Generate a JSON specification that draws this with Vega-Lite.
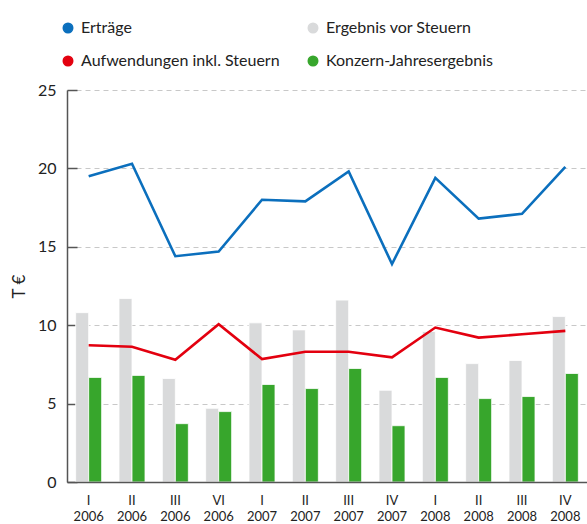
{
  "$schema": "https://vega.github.io/schema/vega-lite/v6.json",
  "width": 520,
  "height": 392,
  "autosize": {"type": "none"},
  "padding": {"left": 67, "top": 90, "right": 0, "bottom": 42},
  "background": "white",
  "config": {
    "view": {"stroke": null},
    "font": "Lato"
  },
  "data": {
    "values": [
      {"q": "I 2006", "series": "Erträge", "value": 19.5},
      {"q": "II 2006", "series": "Erträge", "value": 20.3},
      {"q": "III 2006", "series": "Erträge", "value": 14.4},
      {"q": "VI 2006", "series": "Erträge", "value": 14.7},
      {"q": "I 2007", "series": "Erträge", "value": 18.0},
      {"q": "II 2007", "series": "Erträge", "value": 17.9},
      {"q": "III 2007", "series": "Erträge", "value": 19.8},
      {"q": "IV 2007", "series": "Erträge", "value": 13.9},
      {"q": "I 2008", "series": "Erträge", "value": 19.4},
      {"q": "II 2008", "series": "Erträge", "value": 16.8},
      {"q": "III 2008", "series": "Erträge", "value": 17.1},
      {"q": "IV 2008", "series": "Erträge", "value": 20.1},
      {"q": "I 2006", "series": "Aufwendungen inkl. Steuern", "value": 8.72},
      {"q": "II 2006", "series": "Aufwendungen inkl. Steuern", "value": 8.63},
      {"q": "III 2006", "series": "Aufwendungen inkl. Steuern", "value": 7.8},
      {"q": "VI 2006", "series": "Aufwendungen inkl. Steuern", "value": 10.06},
      {"q": "I 2007", "series": "Aufwendungen inkl. Steuern", "value": 7.84},
      {"q": "II 2007", "series": "Aufwendungen inkl. Steuern", "value": 8.31},
      {"q": "III 2007", "series": "Aufwendungen inkl. Steuern", "value": 8.31},
      {"q": "IV 2007", "series": "Aufwendungen inkl. Steuern", "value": 7.95},
      {"q": "I 2008", "series": "Aufwendungen inkl. Steuern", "value": 9.85},
      {"q": "II 2008", "series": "Aufwendungen inkl. Steuern", "value": 9.21},
      {"q": "III 2008", "series": "Aufwendungen inkl. Steuern", "value": 9.42},
      {"q": "IV 2008", "series": "Aufwendungen inkl. Steuern", "value": 9.64},
      {"q": "I 2006", "series": "Ergebnis vor Steuern", "value": 10.8},
      {"q": "II 2006", "series": "Ergebnis vor Steuern", "value": 11.7},
      {"q": "III 2006", "series": "Ergebnis vor Steuern", "value": 6.6},
      {"q": "VI 2006", "series": "Ergebnis vor Steuern", "value": 4.7},
      {"q": "I 2007", "series": "Ergebnis vor Steuern", "value": 10.15},
      {"q": "II 2007", "series": "Ergebnis vor Steuern", "value": 9.7},
      {"q": "III 2007", "series": "Ergebnis vor Steuern", "value": 11.6},
      {"q": "IV 2007", "series": "Ergebnis vor Steuern", "value": 5.85},
      {"q": "I 2008", "series": "Ergebnis vor Steuern", "value": 9.6},
      {"q": "II 2008", "series": "Ergebnis vor Steuern", "value": 7.55},
      {"q": "III 2008", "series": "Ergebnis vor Steuern", "value": 7.75},
      {"q": "IV 2008", "series": "Ergebnis vor Steuern", "value": 10.55},
      {"q": "I 2006", "series": "Konzern-Jahresergebnis", "value": 6.67},
      {"q": "II 2006", "series": "Konzern-Jahresergebnis", "value": 6.8},
      {"q": "III 2006", "series": "Konzern-Jahresergebnis", "value": 3.72},
      {"q": "VI 2006", "series": "Konzern-Jahresergebnis", "value": 4.49},
      {"q": "I 2007", "series": "Konzern-Jahresergebnis", "value": 6.22},
      {"q": "II 2007", "series": "Konzern-Jahresergebnis", "value": 5.96},
      {"q": "III 2007", "series": "Konzern-Jahresergebnis", "value": 7.24},
      {"q": "IV 2007", "series": "Konzern-Jahresergebnis", "value": 3.59},
      {"q": "I 2008", "series": "Konzern-Jahresergebnis", "value": 6.67},
      {"q": "II 2008", "series": "Konzern-Jahresergebnis", "value": 5.32},
      {"q": "III 2008", "series": "Konzern-Jahresergebnis", "value": 5.45},
      {"q": "IV 2008", "series": "Konzern-Jahresergebnis", "value": 6.92}
    ]
  },
  "encoding": {
    "x": {
      "field": "q",
      "type": "nominal",
      "sort": null,
      "scale": {"paddingInner": 0.4, "paddingOuter": 0.2},
      "axis": {
        "title": null,
        "labelAngle": 0,
        "labelExpr": "split(datum.label, ' ')",
        "labelFontSize": 13,
        "labelLineHeight": 16,
        "labelColor": "#222222",
        "labelPadding": 12,
        "ticks": false,
        "domainColor": "#555555",
        "domainWidth": 1.5,
        "zindex": 1
      }
    },
    "y": {
      "field": "value",
      "type": "quantitative",
      "scale": {"domain": [0, 25], "nice": false},
      "axis": {
        "title": "T €",
        "titleFontSize": 17,
        "titleFontWeight": "normal",
        "titleColor": "#222222",
        "titlePadding": 9,
        "values": [0, 5, 10, 15, 20, 25],
        "labelFontSize": 16,
        "labelColor": "#222222",
        "tickSize": -10,
        "tickColor": "#555555",
        "tickWidth": 1.5,
        "labelPadding": 21,
        "domainColor": "#555555",
        "domainWidth": 1.5,
        "grid": true,
        "gridColor": "#c8c8c8",
        "gridDash": [5, 4],
        "gridWidth": 1
      }
    },
    "color": {
      "field": "series",
      "type": "nominal",
      "scale": {
        "domain": ["Erträge", "Ergebnis vor Steuern", "Aufwendungen inkl. Steuern", "Konzern-Jahresergebnis"],
        "range": ["#0b6fbd", "#d9dadb", "#e3000f", "#37a62c"]
      },
      "legend": {
        "title": null,
        "orient": "none",
        "legendX": -7,
        "legendY": -70,
        "direction": "horizontal",
        "columns": 2,
        "columnPadding": 25,
        "rowPadding": 17,
        "labelFontSize": 16,
        "labelColor": "#222222",
        "labelLimit": 300,
        "labelOffset": 5,
        "symbolType": "circle",
        "symbolSize": 90,
        "encode": {
          "symbols": {
            "update": {
              "fill": {"scale": "color", "field": "value"},
              "stroke": {"value": "transparent"},
              "fillOpacity": {"value": 1}
            }
          }
        }
      }
    }
  },
  "layer": [
    {
      "transform": [{"filter": "datum.series == 'Ergebnis vor Steuern' || datum.series == 'Konzern-Jahresergebnis'"}],
      "mark": {"type": "bar", "stroke": "white", "strokeWidth": 0.8},
      "encoding": {
        "xOffset": {
          "field": "series",
          "type": "nominal",
          "scale": {"domain": ["Ergebnis vor Steuern", "Konzern-Jahresergebnis"], "paddingInner": 0, "paddingOuter": 0}
        }
      }
    },
    {
      "transform": [{"filter": "datum.series == 'Erträge' || datum.series == 'Aufwendungen inkl. Steuern'"}],
      "mark": {"type": "line", "strokeWidth": 2.6, "strokeJoin": "miter"},
      "encoding": {}
    }
  ]
}
